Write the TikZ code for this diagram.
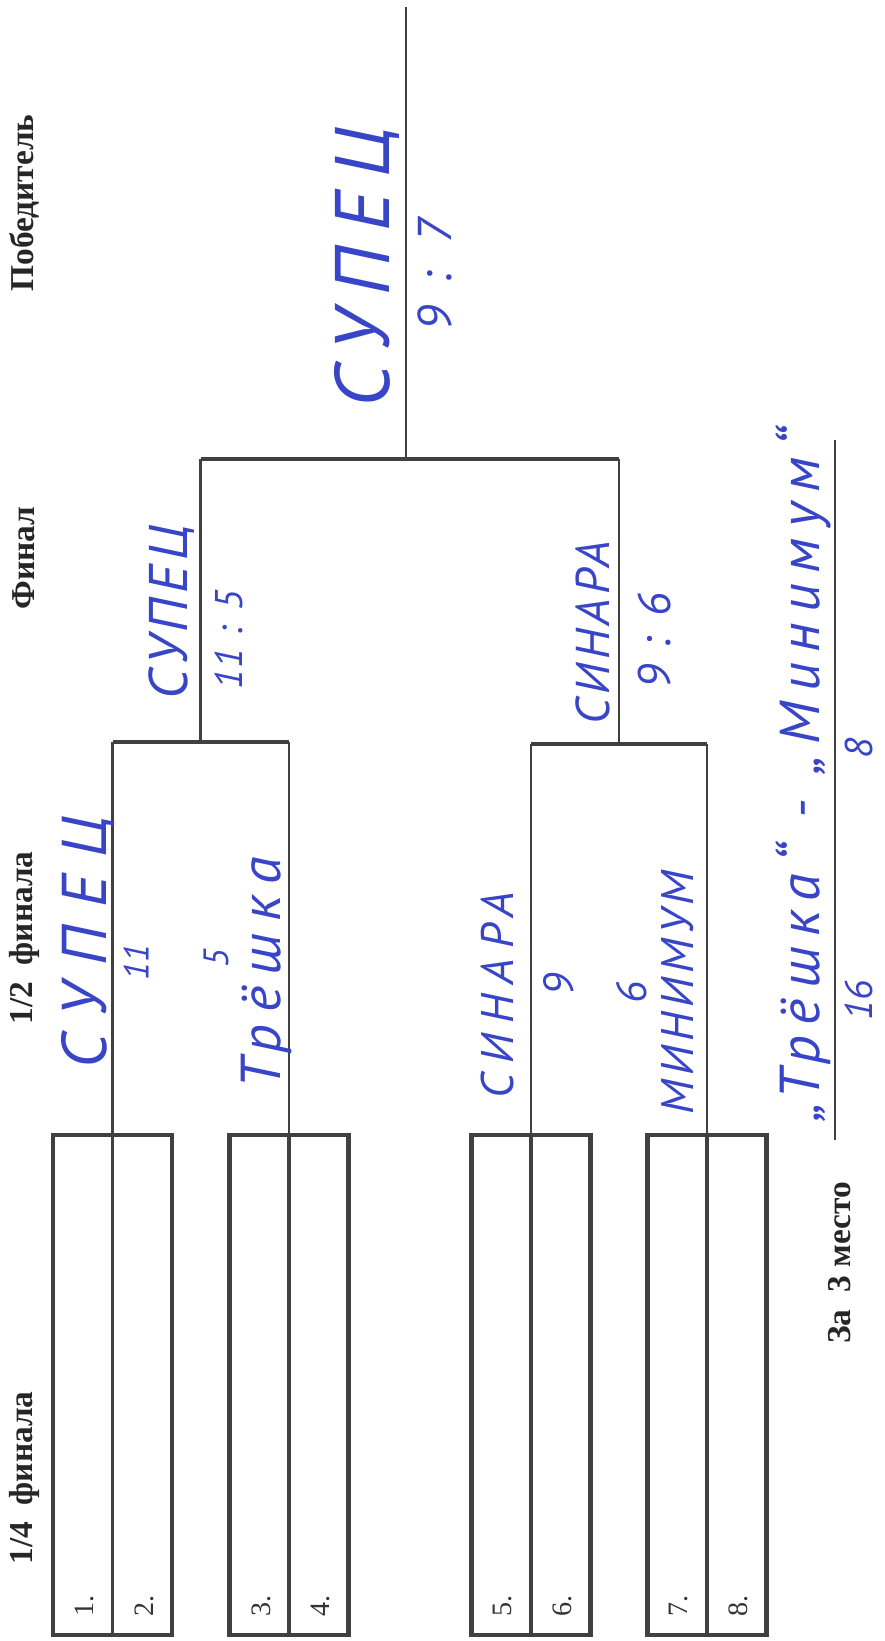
\documentclass[tikz,border=0pt]{standalone}
\usepackage{fontspec}
\setmainfont{Liberation Serif}
\newfontfamily\handfont{PT Sans}
\usetikzlibrary{calc}
\definecolor{InkBlue}{rgb}{0.22, 0.27, 0.78}
\definecolor{LineGray}{rgb}{0.25, 0.25, 0.25}

\begin{document}
\begin{tikzpicture}[
    x=0.02cm, y=-0.02cm,
    head/.style={rotate=90, inner sep=0pt, text=black!85,
        font=\fontsize{19}{19}\selectfont\bfseries},
    num/.style={rotate=90, anchor=west, inner sep=0pt, text=black!80,
        font=\fontsize{16}{16}\selectfont},
    match/.style={draw=LineGray, line width=2.6pt, inner sep=0pt,
        minimum width=2.38cm, minimum height=10cm},
    bar/.style={draw=LineGray, line width=2.2pt},
    wire/.style={draw=LineGray, line width=1.6pt},
    ink/.style n args={2}{rotate=90, inner sep=0pt, text=InkBlue,
        font=\handfont\itshape\fontsize{#1}{#1}\selectfont\addfontfeature{LetterSpace=#2}},
]
\useasboundingbox (0,0) rectangle (885,1641);

% ================= headings =================
\node[head] (hquarter) at (24,1478) {1/4\ \ финала};
\node[head] (hsemi) at (24,938) {1/2\ \ финала};
\node[head] (hfinal) at (24,558) {Финал};
\node[head] (hwinner) at (24,203) {Победитель};
\node[head] (hthird) at (840,1263) {За\ \ 3 место};

% ================= 1/4 финала =================
\node[match] (m12) at (112.5,1385) {};
\node[match] (m34) at (289,1385) {};
\node[match] (m56) at (531,1385) {};
\node[match] (m78) at (707,1385) {};
\foreach \n/\x in {1/84, 2/144, 3/261, 4/320, 5/502, 6/562, 7/678, 8/738}
    \node[num] (n\n) at (\x,1617) {\n.};

% ================= bracket =================
\coordinate (semi1) at (200.75,742);
\coordinate (semi2) at (619,744);
\coordinate (final) at (406,459);
\coordinate (champ) at (406,7);

\foreach \m in {m12, m34, m56, m78}
    \draw[bar] (\m.south) -- (\m.north);
\draw[wire] (m12.north) -- (m12.north |- semi1);
\draw[wire] (m34.north) -- (m34.north |- semi1);
\draw[wire] (m56.north) -- (m56.north |- semi2);
\draw[wire] (m78.north) -- (m78.north |- semi2);
\draw[bar] (m12.north |- semi1) -- (m34.north |- semi1);
\draw[bar] (m56.north |- semi2) -- (m78.north |- semi2);

\draw[wire] (semi1) -- (semi1 |- final);
\draw[wire] (semi2) -- (semi2 |- final);
\draw[bar] (semi1 |- final) -- (semi2 |- final);
\draw[wire] (final) -- (champ);

% за 3 место
\coordinate (thirdtop) at (835,440);
\coordinate (thirdbot) at (835,1140);
\draw[wire] (thirdtop) -- (thirdbot);

% ================= handwritten results =================
\node[ink={44}{20}] (wname) at (367,267) {СУПЕЦ};
\node[ink={27}{18}] (wscore) at (435,275) {9 : 7};

\node[ink={31}{9}] (s1name) at (172,612) {СУПЕЦ};
\node[ink={22}{3}] (s1score) at (229,640) {11 : 5};
\node[ink={27}{9}] (s2name) at (593,633) {СИНАРА};
\node[ink={26}{7}] (s2score) at (655,641) {9 : 6};

\node[ink={36}{29}] (q1name) at (88,942) {СУПЕЦ};
\node[ink={20}{0}] (q1score) at (136,962) {11};
\node[ink={20}{0}] (q2score) at (216,958) {5};
\node[ink={32}{21}] (q2name) at (266,973) {Трёшка};
\node[ink={26}{22}] (q3name) at (498,995) {СИНАРА};
\node[ink={24}{0}] (q3score) at (559,985) {9};
\node[ink={24}{0}] (q4score) at (632,993) {6};
\node[ink={26}{10}] (q4name) at (678,993) {МИНИМУМ};

\node[ink={32}{19}] (tname) at (803,775) {„Трёшка“ - „Минимум“};
\node[ink={22}{0}] (tscore1) at (859,1000) {16};
\node[ink={22}{0}] (tscore2) at (859,748) {8};

\end{tikzpicture}
\end{document}
